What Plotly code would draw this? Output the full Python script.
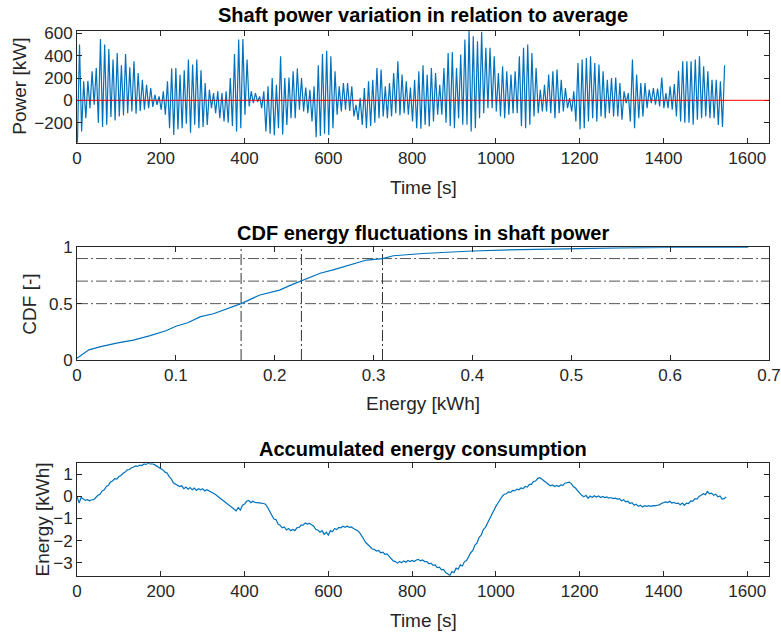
import numpy as np
import plotly.graph_objects as go

# ---------------------------------------------------------------------------
# Shaft power variation around the average (kW): one trough and one crest per
# oscillation cycle, cycles spaced ~10 s apart.
# ---------------------------------------------------------------------------
trough_kw = [
    -380, -280, -160, -70, -40, -200, -240, -220, -150, -180,
    -145, -135, -115, -100, -120, -95, -85, -70, -60, -40,
    -85, -130, -250, -310, -260, -250, -210, -290, -220, -250,
    -240, -220, -70, -115, -160, -190, -200, -230, -280, -250,
    -130, -55, -25, -15, -70, -280, -300, -313, -250, -307,
    -220, -160, -160, -85, -100, -115, -190, -330, -320, -300,
    -310, -250, -130, -100, -85, -95, -145, -175, -220, -250,
    -230, -200, -160, -145, -160, -145, -115, -135, -115, -130,
    -190, -250, -255, -220, -235, -190, -130, -130, -200, -230,
    -250, -160, -220, -220, -280, -250, -160, -115, -70, -70,
    -100, -145, -160, -130, -115, -115, -230, -250, -220, -145,
    -115, -100, -100, -115, -160, -115, -100, -70, -100, -190,
    -260, -250, -190, -160, -190, -145, -160, -115, -145, -145,
    -175, -25, -190, -250, -160, -145, -70, -25, -40, -55,
    -70, -70, -85, -145, -190, -200, -200, -220, -175, -160,
    -145, -160, -160, -220, -240,
]
peak_kw = [
    500, 170, 175, 260, 290, 550, 500, 460, 365, 425,
    315, 415, 295, 350, 245, 185, 140, 110, 50, 35,
    80, 170, 285, 290, 230, 270, 365, 320, 365, 270,
    155, 95, 65, 80, 65, 80, 200, 415, 545, 550,
    365, 80, 65, 35, 80, 125, 200, 140, 395, 200,
    205, 260, 285, 200, 115, 95, 125, 313, 415, 445,
    395, 260, 125, 155, 155, 125, -40, 20, 110, 170,
    185, 290, 275, 125, 155, 245, 350, 230, 170, 115,
    185, 260, 313, 230, 290, 245, 140, 290, 425, 433,
    290, 410, 545, 624, 575, 530, 615, 470, 470, 395,
    245, 305, 260, 230, 260, 395, 470, 500, 425, 290,
    95, 140, 230, 260, 275, 185, 110, 20, 80, 335,
    365, 380, 395, 335, 320, 260, 185, 200, 205, 155,
    80, 65, 365, 230, 155, 155, 95, 110, 105, 205,
    65, 125, 145, 265, 350, 350, 350, 365, 395, 305,
    260, 185, 185, 170, 313,
]
POWER_T0_S = 1.0
POWER_HALF_CYCLE_S = 5.0

# ---------------------------------------------------------------------------
# Cumulative distribution of the energy fluctuations
# ---------------------------------------------------------------------------
cdf_energy_kwh = [
    0.0, 0.004, 0.012, 0.024, 0.04, 0.057, 0.074, 0.09, 0.1, 0.112,
    0.125, 0.138, 0.15, 0.166, 0.185, 0.195, 0.205, 0.215, 0.227, 0.246,
    0.259, 0.276, 0.293, 0.309, 0.32, 0.35, 0.4, 0.45, 0.5, 0.55,
    0.6, 0.679,
]
cdf_value = [
    0.015, 0.04, 0.09, 0.118, 0.15, 0.177, 0.216, 0.26, 0.3, 0.33,
    0.385, 0.41, 0.45, 0.5, 0.577, 0.6, 0.62, 0.66, 0.7, 0.77,
    0.8, 0.843, 0.887, 0.9, 0.925, 0.945, 0.967, 0.98, 0.99, 0.995,
    1.0, 1.0,
]
cdf_levels = [0.5, 0.7, 0.9]

# ---------------------------------------------------------------------------
# Accumulated energy consumption (kWh), sampled every 5 s
# ---------------------------------------------------------------------------
energy_kwh = [
    0.0, -0.3, -0.05, -0.12, -0.18, -0.15, -0.2, -0.15, -0.15, -0.05,
    0.05, 0.1, 0.25, 0.3, 0.45, 0.5, 0.65, 0.7, 0.8, 0.78,
    0.9, 0.95, 1.05, 1.1, 1.2, 1.22, 1.3, 1.33, 1.38, 1.36,
    1.42, 1.4, 1.47, 1.45, 1.5, 1.47, 1.48, 1.44, 1.38, 1.35,
    1.25, 1.2, 1.1, 1.06, 0.9, 0.8, 0.62, 0.55, 0.5, 0.45,
    0.48, 0.35, 0.42, 0.33, 0.4, 0.3, 0.38, 0.27, 0.35, 0.3,
    0.35, 0.25, 0.3, 0.25, 0.22, 0.15, 0.1, 0.02, -0.05, -0.12,
    -0.2, -0.28, -0.35, -0.42, -0.5, -0.55, -0.65, -0.5, -0.62, -0.4,
    -0.35, -0.22, -0.18, -0.28, -0.22, -0.27, -0.27, -0.28, -0.3, -0.32,
    -0.35, -0.5, -0.7, -0.85, -1.02, -1.05, -1.25, -1.3, -1.42, -1.38,
    -1.52, -1.45, -1.55, -1.5, -1.55, -1.42, -1.4, -1.3, -1.3, -1.2,
    -1.25, -1.22, -1.3, -1.35, -1.5, -1.52, -1.62, -1.55, -1.72, -1.62,
    -1.75, -1.55, -1.6, -1.45, -1.5, -1.4, -1.42, -1.35, -1.4, -1.35,
    -1.4, -1.38, -1.45, -1.5, -1.55, -1.65, -1.78, -1.95, -2.1, -2.2,
    -2.3, -2.38, -2.4, -2.48, -2.45, -2.55, -2.52, -2.62, -2.6, -2.72,
    -2.8, -2.92, -2.95, -3.02, -2.95, -3.0, -2.92, -2.98, -2.9, -2.95,
    -2.9, -2.95, -2.88, -2.85, -2.92, -2.88, -2.95, -2.95, -3.05, -3.02,
    -3.12, -3.1, -3.22, -3.2, -3.32, -3.3, -3.45, -3.5, -3.59, -3.4,
    -3.45, -3.25, -3.3, -3.1, -3.15, -2.95, -2.9, -2.7, -2.55, -2.45,
    -2.2, -2.1, -1.85, -1.75, -1.5, -1.4, -1.2, -1.05, -0.8, -0.65,
    -0.45, -0.3, -0.12, 0.0, 0.1, 0.12, 0.2, 0.18, 0.27, 0.25,
    0.33, 0.3, 0.38, 0.35, 0.45, 0.42, 0.55, 0.55, 0.68, 0.7,
    0.82, 0.85, 0.78, 0.7, 0.6, 0.55, 0.48, 0.52, 0.45, 0.5,
    0.45, 0.52, 0.5, 0.6, 0.62, 0.65, 0.58, 0.45, 0.38, 0.25,
    0.15, 0.05, -0.02, 0.05, -0.08, 0.02, -0.05, 0.03, -0.03, 0.02,
    -0.05, 0.0, -0.05, -0.02, -0.08, -0.05, -0.1, -0.08, -0.12, -0.1,
    -0.2, -0.15, -0.25, -0.22, -0.32, -0.28, -0.4, -0.35, -0.45, -0.4,
    -0.48, -0.42, -0.45, -0.42, -0.45, -0.42, -0.43, -0.4, -0.38, -0.32,
    -0.3, -0.25, -0.28, -0.22, -0.3, -0.27, -0.32, -0.3, -0.38, -0.3,
    -0.4, -0.3, -0.32, -0.2, -0.22, -0.1, -0.12, 0.0, 0.05, 0.12,
    0.08, 0.22, 0.12, 0.15, 0.05, 0.1, -0.02, 0.02, -0.12, -0.1,
    -0.02,
]
ENERGY_STEP_S = 5.0

# ---------------------------------------------------------------------------
# Build the series
# ---------------------------------------------------------------------------
power_kw = np.empty(2 * len(peak_kw))
power_kw[0::2] = trough_kw
power_kw[1::2] = peak_kw
time_power_s = POWER_T0_S + POWER_HALF_CYCLE_S * np.arange(len(power_kw))
time_energy_s = ENERGY_STEP_S * np.arange(len(energy_kwh))
level_energy = np.interp(cdf_levels, cdf_value, cdf_energy_kwh)

BLUE = "#0072BD"
INK = "#262626"
FONT = "Liberation Sans, Arial, sans-serif"
LW = 1.2

fig = go.Figure()
fig.add_trace(go.Scatter(x=time_power_s, y=power_kw, mode="lines",
                         line=dict(color=BLUE, width=LW), xaxis="x", yaxis="y"))
fig.add_trace(go.Scatter(x=cdf_energy_kwh, y=cdf_value, mode="lines",
                         line=dict(color=BLUE, width=LW), xaxis="x2", yaxis="y2"))
fig.add_trace(go.Scatter(x=time_energy_s, y=energy_kwh, mode="lines",
                         line=dict(color=BLUE, width=LW), xaxis="x3", yaxis="y3"))

# zero reference on the power plot
fig.add_shape(type="line", xref="x domain", yref="y", x0=0, x1=1, y0=0, y1=0,
              line=dict(color="#FF0000", width=1), layer="above")

# dash-dot guides at the CDF levels and their energy values
DASHDOT = "11px,3px,2px,3px"
for lvl in cdf_levels:
    fig.add_shape(type="line", xref="x2 domain", yref="y2", x0=0, x1=1, y0=lvl, y1=lvl,
                  line=dict(color="#555555", width=1, dash=DASHDOT), layer="below")
for e in level_energy:
    fig.add_shape(type="line", xref="x2", yref="y2 domain", x0=e, x1=e, y0=0, y1=1,
                  line=dict(color="#333333", width=1, dash=DASHDOT), layer="below")

XDOM = [77 / 781, 769 / 781]


def ydom(top_px, bottom_px):
    return [(635 - bottom_px) / 635, (635 - top_px) / 635]


axis_style = dict(showline=True, linecolor=INK, linewidth=1, mirror="ticks",
                  ticks="inside", ticklen=5, tickcolor=INK, tickwidth=1,
                  tickfont=dict(size=17, color=INK, family=FONT),
                  showgrid=False, zeroline=False, automargin=False)

fig.update_layout(
    template="none",
    width=781, height=635, margin=dict(l=0, r=0, t=0, b=0, pad=0),
    paper_bgcolor="white", plot_bgcolor="white", showlegend=False,
    font=dict(family=FONT, color=INK),
    xaxis=dict(axis_style, domain=XDOM, anchor="y", range=[0, 1652],
               tickvals=list(range(0, 1601, 200))),
    yaxis=dict(axis_style, domain=ydom(30.7, 142.7), anchor="x", range=[-380, 624],
               tickvals=[-200, 0, 200, 400, 600]),
    xaxis2=dict(axis_style, domain=XDOM, anchor="y2", range=[0, 0.7],
                tickvals=[0, 0.1, 0.2, 0.3, 0.4, 0.5, 0.6, 0.7],
                ticktext=["0", "0.1", "0.2", "0.3", "0.4", "0.5", "0.6", "0.7"]),
    yaxis2=dict(axis_style, domain=ydom(247.3, 360), anchor="x2", range=[0, 1],
                tickvals=[0, 0.5, 1], ticktext=["0", "0.5", "1"]),
    xaxis3=dict(axis_style, domain=XDOM, anchor="y3", range=[0, 1652],
                tickvals=list(range(0, 1601, 200))),
    yaxis3=dict(axis_style, domain=ydom(463.3, 575.7), anchor="x3", range=[-3.59, 1.5],
                tickvals=[-3, -2, -1, 0, 1]),
)


def px_x(x):
    return x / 781


def px_y(y):
    return (635 - y) / 635


texts = [
    ("Shaft power variation in relation to average", 423, 15, 20, True, 0),
    ("CDF energy fluctuations in shaft power", 423, 233, 20, True, 0),
    ("Accumulated energy consumption", 423, 449, 20, True, 0),
    ("Time [s]", 423, 187, 19, False, 0),
    ("Energy [kWh]", 423, 404, 19, False, 0),
    ("Time [s]", 423, 620, 19, False, 0),
    ("Power [kW]", 20, 86.7, 19, False, -90),
    ("CDF [-]", 30, 303.7, 19, False, -90),
    ("Energy [kWh]", 42, 519.5, 19, False, -90),
]
for txt, x, y, size, bold, ang in texts:
    fig.add_annotation(text=f"<b>{txt}</b>" if bold else txt,
                       x=px_x(x), y=px_y(y), xref="paper", yref="paper",
                       xanchor="center", yanchor="middle", showarrow=False,
                       textangle=ang,
                       font=dict(size=size, color="#000000" if bold else INK, family=FONT))

# the page itself carries no body margin around the figure
fig.write_html("out.html",
               post_script="document.body.style.margin='0';document.body.style.overflow='hidden';")
